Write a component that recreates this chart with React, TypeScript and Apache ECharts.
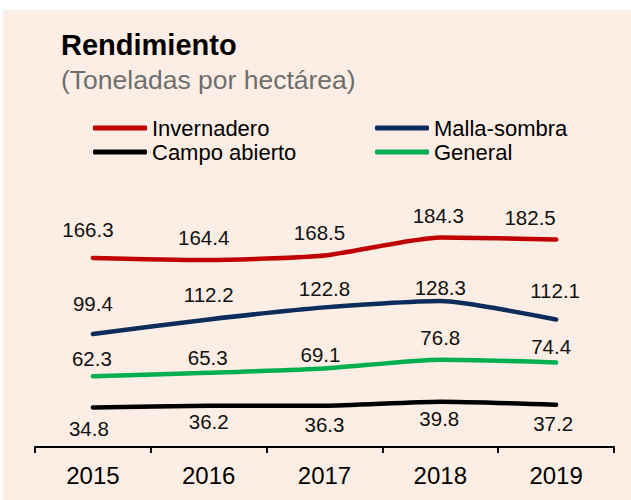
import React, { useEffect, useRef } from "react";
import * as echarts from "echarts";

const years = ["2015", "2016", "2017", "2018", "2019"];
const invernadero = [166.3, 164.4, 168.5, 184.3, 182.5];
const mallaSombra = [99.4, 112.2, 122.8, 128.3, 112.1];
const general = [62.3, 65.3, 69.1, 76.8, 74.4];
const campoAbierto = [34.8, 36.2, 36.3, 39.8, 37.2];

// label placement (center offset from the point, px) — layout only
const LABEL_OFFSETS: Record<string, number[][]> = {
  inv: [[-5, -28], [-5, -23], [-5, -23], [-2, -22], [-26, -22]],
  mal: [[0, -30], [0, -25], [0, -19], [0, -14], [-1, -29]],
  gen: [[-1, -18], [-1, -15], [-4, -14], [0, -22], [-5, -16]],
  cam: [[-4, 21], [0, 16], [0, 19], [-1, 17], [-3, 19]],
};

const FONT = "'Liberation Sans', Arial, sans-serif";
const BG = "#FCEEE4";

export default function App() {
  const ref = useRef<HTMLDivElement>(null);
  useEffect(() => {
    document.body.style.margin = "0";
    const chart = echarts.init(ref.current!, null, { renderer: "svg" });
    const mk = (name: string, key: string, values: number[], color: string) => ({
      name,
      type: "line",
      smooth: 0.2,
      symbol: "circle",
      symbolSize: 2,
      showSymbol: true,
      itemStyle: { color },
      lineStyle: { color, width: 4.5, cap: "round", join: "round" },
      emphasis: { disabled: true },
      label: {
        show: true,
        position: "inside",
        fontSize: 20.5,
        fontFamily: FONT,
        color: "#111",
      },
      data: values.map((v, i) => ({ value: v, label: { offset: LABEL_OFFSETS[key][i] } })),
    });
    const legendCommon = {
      orient: "vertical",
      top: 117,
      padding: 0,
      itemGap: 2,
      itemWidth: 54,
      itemHeight: 5,
      icon: "roundRect",
      selectedMode: false,
      textStyle: { fontSize: 22, fontFamily: FONT, color: "#000" },
    };
    chart.setOption({
      animation: false,
      backgroundColor: "#fff",
      graphic: [
        { type: "rect", z: -10, shape: { x: 3, y: 10, width: 628, height: 490 }, style: { fill: BG } },
      ],
      title: [
        {
          text: "Rendimiento",
          left: 61,
          top: 30.5,
          padding: 0,
          textStyle: { fontSize: 29, fontWeight: "bold", fontFamily: FONT, color: "#000" },
        },
        {
          text: "(Toneladas por hectárea)",
          left: 61,
          top: 66,
          padding: 0,
          textStyle: { fontSize: 26.5, fontWeight: "normal", fontFamily: FONT, color: "#6e6e6e" },
        },
      ],
      legend: [
        { ...legendCommon, left: 93, data: ["Invernadero", "Campo abierto"] },
        { ...legendCommon, left: 375, data: ["Malla-sombra", "General"] },
      ],
      grid: { left: 35, right: 17, top: 219.6, bottom: 53 },
      xAxis: {
        type: "category",
        data: years,
        boundaryGap: true,
        axisLine: { lineStyle: { color: "#000", width: 2 } },
        axisTick: { show: true, length: 6, lineStyle: { color: "#000", width: 2 } },
        axisLabel: { fontSize: 24, fontFamily: FONT, color: "#000", margin: 16 },
      },
      yAxis: { type: "value", min: 0, max: 200, show: false },
      series: [
        mk("Invernadero", "inv", invernadero, "#C00000"),
        mk("Malla-sombra", "mal", mallaSombra, "#0B2D5C"),
        mk("Campo abierto", "cam", campoAbierto, "#000000"),
        mk("General", "gen", general, "#00B050"),
      ],
    });
    return () => chart.dispose();
  }, []);
  return <div ref={ref} style={{ width: 631, height: 500 }} />;
}
